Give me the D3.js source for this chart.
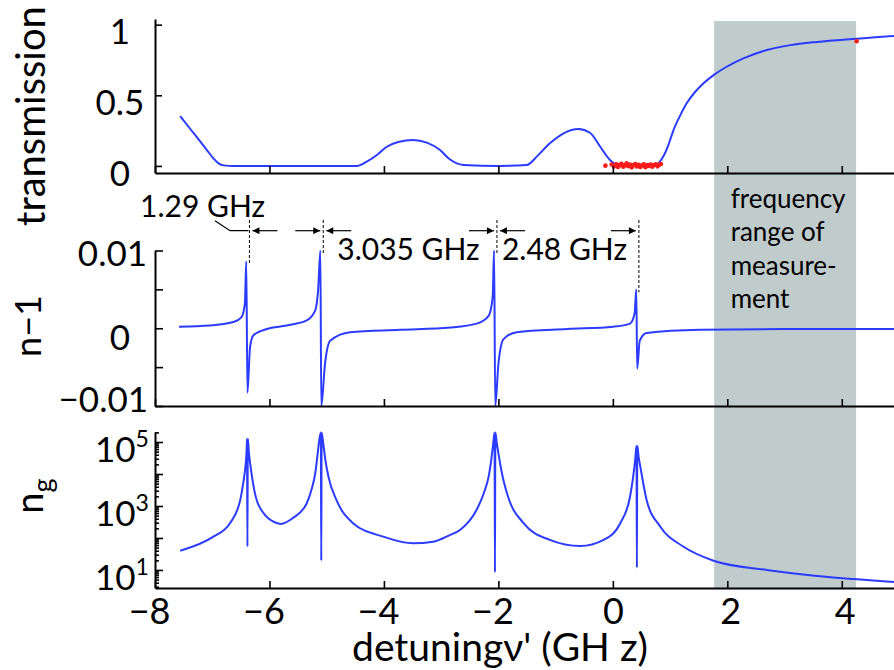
<!DOCTYPE html>
<html>
<head>
<meta charset="utf-8">
<script src="https://cdn.jsdelivr.net/npm/d3@7"></script>
<style>
  body { margin: 0; background: #fff; }
  svg { display: block; font-family: Lato, "Noto Sans", sans-serif; }
</style>
</head>
<body>
<div id="vis"></div>
<script>
// Frame
const FRAME_WIDTH = 894;
const FRAME_HEIGHT = 670;
const LEFT = 155;
const BLUE = "#2b3bff";

// ---- data ----
const resonances = [-6.385, -5.095, -2.06, 0.42];
const spacingLabels = ["1.29 GHz", "3.035 GHz", "2.48 GHz"];
const bandRange = [1.77, 4.25];
const bandText = ["frequency", "range of", "measure-", "ment"];
const xTicks = [-8, -6, -4, -2, 0, 2, 4];
const transTicks = [0, 0.5, 1];
const indexTicks = [-0.01, -0.005, 0, 0.005, 0.01];
const indexLabels = [-0.01, 0, 0.01];
const ngLabels = [1e1, 1e3, 1e5];

// transmission (theory)
const transX = [-7.56, -7.39, -7.21, -7.10, -6.98, -6.89, -6.80, -6.63, -5.5, -4.47, -4.30, -4.10,
  -3.95, -3.75, -3.49, -3.25, -3.02, -2.85, -2.61, -2.0, -1.50, -1.33, -1.10, -0.86, -0.60, -0.40,
  -0.22, -0.05, 0.06, 0.4, 0.77, 0.88, 0.97, 1.06, 1.18, 1.29, 1.44, 1.58, 1.76, 1.99, 2.28, 2.69,
  3.10, 3.57, 4.25, 4.92, 5.0];
const transY = [0.353, 0.265, 0.173, 0.116, 0.054, 0.018, 0.004, 0.0, 0.0, 0.0, 0.03, 0.085,
  0.136, 0.17, 0.184, 0.165, 0.113, 0.047, 0.007, 0.0, 0.007, 0.066, 0.16, 0.231, 0.261, 0.235,
  0.136, 0.042, 0.012, 0.005, 0.012, 0.066, 0.148, 0.254, 0.36, 0.443, 0.525, 0.584, 0.643, 0.702,
  0.761, 0.82, 0.855, 0.878, 0.90, 0.919, 0.92];

// transmission (measured)
const dotX = [-0.13, -0.02, 0.02, 0.06, 0.09, 0.12, 0.15, 0.18, 0.21, 0.24, 0.27, 0.30, 0.33, 0.36,
  0.39, 0.42, 0.45, 0.48, 0.51, 0.54, 0.57, 0.60, 0.63, 0.66, 0.69, 0.72, 0.75, 0.78, 0.81, 0.84, 4.26];
const dotY = [0.002, 0.010, -0.004, 0.012, -0.008, 0.006, 0.015, -0.006, 0.004, 0.018, -0.002, 0.009,
  -0.010, 0.005, 0.013, -0.004, 0.008, -0.007, 0.003, 0.011, -0.009, 0.006, 0.000, 0.010, -0.005,
  0.007, 0.012, -0.003, 0.008, 0.014, 0.883];

// refractive index n-1
const indexX = [-7.58, -7.04, -6.63, -6.49, -6.43, -6.405, -6.385, -6.34, -6.28, -6.05, -5.70, -5.35,
  -5.20, -5.15, -5.11, -5.095, -5.03, -4.94, -4.59, -3.72, -2.84, -2.38, -2.17, -2.10, -2.075, -2.055,
  -2.00, -1.91, -1.68, -0.80, 0.01, 0.30, 0.38, 0.41, 0.425, 0.47, 0.59, 1.53, 3.0, 5.0];
const indexY = [0.0002, 0.00035, 0.0008, 0.0014, 0.0031, 0.0086, -0.0083, -0.0025, -0.0009, -0.0001,
  0.00035, 0.001, 0.0023, 0.0049, 0.0100, -0.0100, -0.0046, -0.0016, -0.0005, -0.0002, 0.0001, 0.0006,
  0.0016, 0.004, 0.0100, -0.0100, -0.0046, -0.0014, -0.0005, -0.0001, 0.0002, 0.0006, 0.0019, 0.005,
  -0.0052, -0.0016, -0.0006, -0.0002, -0.0001, -0.0001];

// group index n_g
const ngX = [-7.56, -6.98, -6.69, -6.51, -6.46, -6.42, -6.40, -6.392, -6.385, -6.378, -6.36, -6.33,
  -6.24, -6.10, -5.86, -5.80, -5.59, -5.35, -5.26, -5.20, -5.16, -5.13, -5.102, -5.095, -5.088, -5.06,
  -5.02, -4.97, -4.83, -4.54, -4.01, -3.49, -3.14, -2.85, -2.67, -2.38, -2.24, -2.17, -2.12, -2.09,
  -2.067, -2.06, -2.053, -2.03, -2.00, -1.93, -1.85, -1.56, -1.10, -0.57, -0.16, 0.13, 0.30, 0.35,
  0.39, 0.413, 0.42, 0.427, 0.45, 0.48, 0.59, 0.83, 1.23, 1.76, 2.69, 3.57, 4.21, 4.92, 5.0];
const ngY = [40, 110, 290, 1550, 5000, 17000, 50000, 126000, 54, 126000, 48000, 17000,
  1950, 590, 290, 275, 420, 1200, 3500, 10500, 40000, 115000, 200000, 19.5, 200000, 91000,
  25000, 8300, 1550, 290, 110, 68, 76, 123, 178, 760, 3000, 8300, 32000, 91000,
  200000, 8.5, 200000, 100000, 45000, 9000, 2500, 290, 87, 56, 87, 290, 1950, 7000,
  27500, 76000, 11.7, 76000, 35000, 17000, 1550, 224, 54, 19.5, 10, 6.5, 5.2, 4.2, 4.1];

// ---- scales ----
const X = d3.scaleLinear().domain([-8, 5]).range([LEFT, 899]);
const Y1 = d3.scaleLinear().domain([-0.05, 1.04]).range([173, 19]);
const Y2 = d3.scaleLinear().domain([-0.01, 0.01]).range([406, 250.5]);
const Y3 = d3.scaleLog().domain([2.73, 205600]).range([588, 432]);

const svg = d3.select("#vis")
  .append("svg")
    .attr("width", FRAME_WIDTH)
    .attr("height", FRAME_HEIGHT);

const defs = svg.append("defs");
[["clip1", Y1], ["clip2", Y2], ["clip3", Y3]].forEach(([id, s]) => {
  defs.append("clipPath").attr("id", id)
    .append("rect")
      .attr("x", LEFT).attr("width", FRAME_WIDTH - LEFT)
      .attr("y", s.range()[1] - 1).attr("height", s.range()[0] - s.range()[1] + 2);
});
defs.append("marker")
    .attr("id", "head")
    .attr("viewBox", "0 0 10 10")
    .attr("refX", 10).attr("refY", 5)
    .attr("markerWidth", 9).attr("markerHeight", 7)
    .attr("markerUnits", "userSpaceOnUse")
    .attr("orient", "auto")
  .append("path")
    .attr("d", "M0,0 L10,5 L0,10 Z")
    .attr("fill", "#000");

// shaded measurement range
svg.append("rect")
  .attr("x", X(bandRange[0]))
  .attr("width", X(bandRange[1]) - X(bandRange[0]))
  .attr("y", 21)
  .attr("height", Y3.range()[0] - 21)
  .attr("fill", "#c0cbcc");

const makeLine = (xs, ys, yScale) =>
  d3.line().curve(d3.curveMonotoneX)(xs.map((x, i) => [X(x), yScale(ys[i])]));

svg.append("path")
  .attr("d", makeLine(transX, transY, Y1))
  .attr("clip-path", "url(#clip1)")
  .attr("fill", "none").attr("stroke", BLUE).attr("stroke-width", 2);

svg.append("path")
  .attr("d", makeLine(indexX, indexY, Y2))
  .attr("clip-path", "url(#clip2)")
  .attr("fill", "none").attr("stroke", BLUE).attr("stroke-width", 2);

svg.append("path")
  .attr("d", makeLine(ngX, ngY, Y3))
  .attr("clip-path", "url(#clip3)")
  .attr("fill", "none").attr("stroke", BLUE).attr("stroke-width", 2);

svg.selectAll(".dot")
  .data(dotX)
  .enter()
  .append("circle")
    .attr("cx", d => X(d))
    .attr("cy", (d, i) => Y1(dotY[i]))
    .attr("r", 2.3)
    .attr("fill", "#ff1a1a");

// ---- axes ----
function styleAxis(g, size) {
  g.attr("font-family", null).attr("font-size", size);
  g.select(".domain").attr("stroke-width", 2);
  g.selectAll(".tick line").attr("stroke-width", 1.6);
}

// x axes
[Y1.range()[0], Y2.range()[0]].forEach(y => {
  svg.append("g")
    .attr("transform", "translate(0," + y + ")")
    .call(d3.axisBottom(X).tickValues(xTicks).tickSizeInner(-7).tickSizeOuter(0).tickFormat(""))
    .call(g => styleAxis(g, 10));
});
svg.append("g")
  .attr("transform", "translate(0," + Y3.range()[0] + ")")
  .call(d3.axisBottom(X).tickValues(xTicks).tickSizeInner(-7).tickSizeOuter(0).tickPadding(10))
  .call(g => styleAxis(g, 36))
  .call(g => g.selectAll("text").attr("dx", d => d < 0 ? -6 : (d > 0 ? 3 : 0)));

// transmission y axis
svg.append("g")
  .attr("transform", "translate(" + LEFT + ",0)")
  .call(d3.axisLeft(Y1).tickValues(transTicks).tickSizeInner(-7).tickSizeOuter(0)
    .tickFormat(d => String(d)))
  .call(g => styleAxis(g, 35))
  .call(g => g.selectAll("text").attr("x", -35).attr("text-anchor", "middle").attr("dy", "0.55em"));

// n-1 y axis
const idxPos = {"-0.01": [-7, "end", -7], "0": [-35, "middle", 9], "0.01": [-8, "end", 3]};
svg.append("g")
  .attr("transform", "translate(" + LEFT + ",0)")
  .call(d3.axisLeft(Y2).tickValues(indexTicks).tickSizeInner(-8).tickSizeOuter(0)
    .tickFormat(d => indexLabels.includes(d) ? (d === 0 ? "0" : d3.format(".2f")(d)) : ""))
  .call(g => styleAxis(g, 35))
  .call(g => g.selectAll("text").each(function(d) {
    const p = idxPos[String(d)];
    if (!p) return;
    d3.select(this).attr("x", p[0]).attr("text-anchor", p[1])
      .attr("dy", null).attr("y", p[2] + 12);
  }));

// n_g y axis (log)
svg.append("g")
  .attr("transform", "translate(" + LEFT + ",0)")
  .call(d3.axisLeft(Y3).tickValues(Y3.ticks()).tickSizeInner(-4).tickSizeOuter(0).tickFormat(""))
  .call(g => styleAxis(g, 10))
  .call(g => g.selectAll(".tick line")
    .attr("x2", d => Math.abs(Math.log10(d) - Math.round(Math.log10(d))) < 1e-6 ? 8 : 4));

const ngText = svg.selectAll(".nglabel")
  .data(ngLabels)
  .enter()
  .append("text")
    .attr("x", 95)
    .attr("y", d => Y3(d) + 20)
    .attr("font-size", 35);
ngText.append("tspan").text("10");
ngText.append("tspan")
  .attr("font-size", 23)
  .attr("dy", -15)
  .text(d => Math.round(Math.log10(d)));

// ---- axis titles ----
svg.append("text")
  .attr("transform", "translate(45,116) rotate(-90)")
  .attr("text-anchor", "middle")
  .attr("font-size", 40)
  .text("transmission");

svg.append("text")
  .attr("transform", "translate(41,326) rotate(-90)")
  .attr("text-anchor", "middle")
  .attr("font-size", 36)
  .text("n\u22121");

const ngTitle = svg.append("text")
  .attr("transform", "translate(43,496) rotate(-90)")
  .attr("text-anchor", "middle")
  .attr("font-size", 38);
ngTitle.append("tspan").text("n");
ngTitle.append("tspan").attr("font-size", 27).attr("dy", 9).text("g");

svg.append("text")
  .attr("x", 500)
  .attr("y", 661)
  .attr("text-anchor", "middle")
  .attr("font-size", 39)
  .text("detuning\u03bd' (GH z)");

// ---- resonance annotations ----
const DASH_TOP = 220;
const ARROW_Y = 230.7;
const peakTop = r => d3.max(indexX.map((x, i) => Math.abs(x - r) < 0.05 ? indexY[i] : -1));

svg.selectAll(".res")
  .data(resonances)
  .enter()
  .append("line")
    .attr("x1", d => X(d) + 2).attr("x2", d => X(d) + 2)
    .attr("y1", DASH_TOP)
    .attr("y2", d => Y2(peakTop(d)) + 3)
    .attr("stroke", "#000").attr("stroke-width", 1)
    .attr("stroke-dasharray", "3,2");

resonances.slice(0, -1).forEach((r, i) => {
  const a = X(r) + 2, b = X(resonances[i + 1]) + 2;
  svg.append("line")
    .attr("x1", a + 28).attr("x2", a + 3).attr("y1", ARROW_Y).attr("y2", ARROW_Y)
    .attr("stroke", "#000").attr("stroke-width", 1.2).attr("marker-end", "url(#head)");
  svg.append("line")
    .attr("x1", b - 28).attr("x2", b - 3).attr("y1", ARROW_Y).attr("y2", ARROW_Y)
    .attr("stroke", "#000").attr("stroke-width", 1.2).attr("marker-end", "url(#head)");
});

// leader for the first spacing
svg.append("polyline")
  .attr("points", [[215, 220.7], [230, ARROW_Y], [X(resonances[0]) + 1, ARROW_Y]].join(" "))
  .attr("fill", "none").attr("stroke", "#000").attr("stroke-width", 1.2);

const labelPos = [[140, 216.7], [X(resonances[1]) + 16, 260], [X(resonances[2]) + 7, 260]];
svg.selectAll(".spacing")
  .data(spacingLabels)
  .enter()
  .append("text")
    .attr("x", (d, i) => labelPos[i][0])
    .attr("y", (d, i) => labelPos[i][1])
    .attr("font-size", 30)
    .text(d => d);

// band label
svg.append("text")
  .attr("font-size", 26)
  .selectAll("tspan")
  .data(bandText)
  .enter()
  .append("tspan")
    .attr("x", X(bandRange[0]) + 16.5)
    .attr("y", (d, i) => 208.3 + i * 33.1)
    .text(d => d);
</script>
</body>
</html>
